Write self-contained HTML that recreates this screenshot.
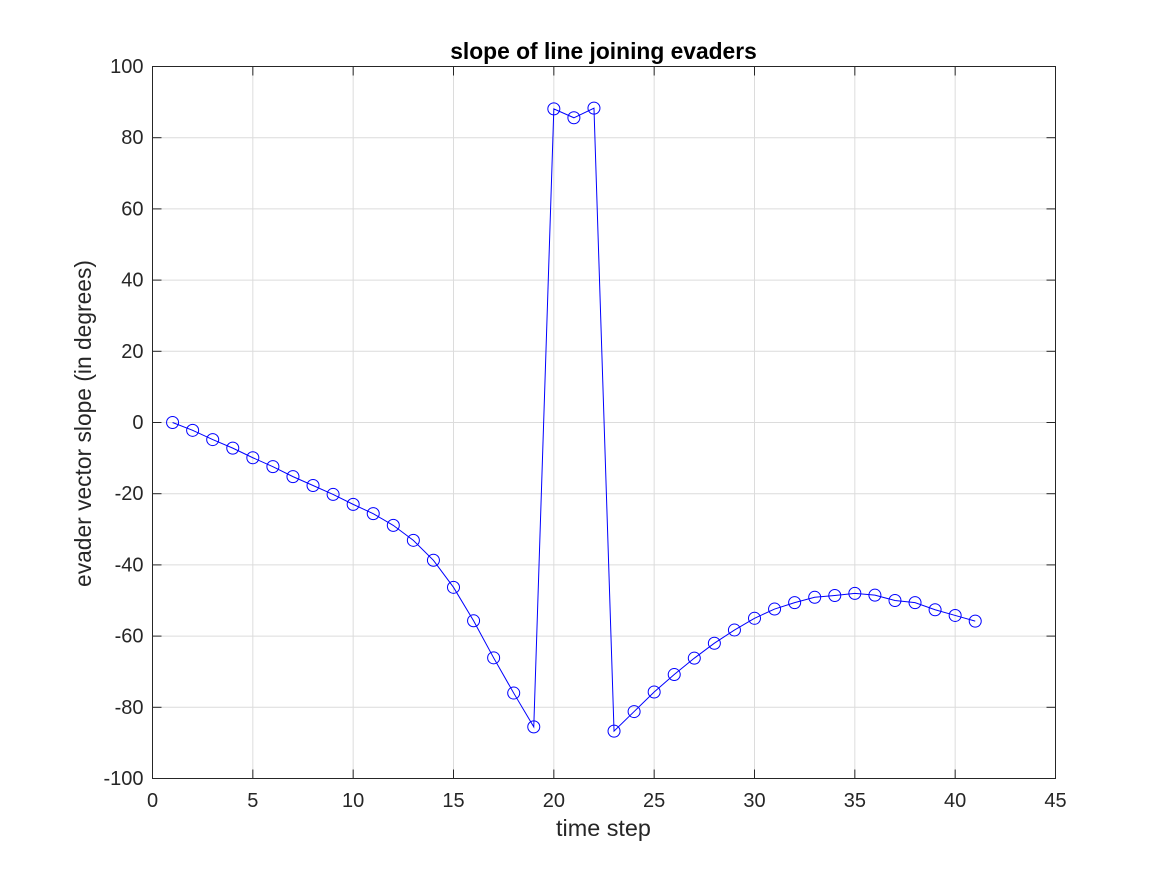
<!DOCTYPE html>
<html>
<head>
<meta charset="utf-8">
<title>slope of line joining evaders</title>
<style>
html,body{margin:0;padding:0;background:#fff;width:1167px;height:875px;overflow:hidden}
svg{display:block;font-family:"Liberation Sans",sans-serif}
</style>
</head>
<body>
<svg id="chart" width="1167" height="875" viewBox="0 0 1167 875" xmlns="http://www.w3.org/2000/svg">
<rect x="0" y="0" width="1167" height="875" fill="#ffffff"/>
<g id="grid"></g>
<g id="series"></g>
<g id="axes"></g>
<text x="603.5" y="59" text-anchor="middle" font-size="22.8" font-weight="bold" fill="#000">slope of line joining evaders</text>
<text x="603.5" y="836" text-anchor="middle" font-size="23.4" fill="#262626">time step</text>
<text transform="translate(91 423.5) rotate(-90)" text-anchor="middle" font-size="22.8" fill="#262626">evader vector slope (in degrees)</text>
</svg>
<script>
const xTicks = [0, 5, 10, 15, 20, 25, 30, 35, 40, 45];
const yTicks = [-100, -80, -60, -40, -20, 0, 20, 40, 60, 80, 100];
const timeSteps = [1,2,3,4,5,6,7,8,9,10,11,12,13,14,15,16,17,18,19,20,21,22,23,24,25,26,27,28,29,30,31,32,33,34,35,36,37,38,39,40,41];
const slopeValues = [0,-2.2,-4.8,-7.2,-9.9,-12.4,-15.2,-17.7,-20.2,-23,-25.6,-28.9,-33.1,-38.7,-46.3,-55.7,-66.1,-76,-85.5,88.1,85.6,88.3,-86.7,-81.2,-75.7,-70.8,-66.2,-62,-58.3,-55,-52.4,-50.6,-49.1,-48.6,-48,-48.5,-50,-50.6,-52.6,-54.2,-55.8];

const NS = 'http://www.w3.org/2000/svg';
const plotLeft = 152.5, plotRight = 1055.5, plotTop = 66.5, plotBottom = 778.5;
const xMin = 0, xMax = 45, yMin = -100, yMax = 100;
const xScale = v => plotLeft + (v - xMin) / (xMax - xMin) * (plotRight - plotLeft);
const yScale = v => plotBottom - (v - yMin) / (yMax - yMin) * (plotBottom - plotTop);
const gridGroup = document.getElementById('grid');
const seriesGroup = document.getElementById('series');
const axesGroup = document.getElementById('axes');

function makeEl(tag, attrs, parent) {
  const el = document.createElementNS(NS, tag);
  for (const k in attrs) el.setAttribute(k, attrs[k]);
  parent.appendChild(el);
  return el;
}

xTicks.forEach(t => {
  const x = xScale(t);
  if (t !== xMin && t !== xMax) {
    const g = makeEl('line', {x1: x, x2: x, y1: plotTop, y2: plotBottom, stroke: '#dcdcdc', 'stroke-width': 1}, gridGroup);
    
    
  }
  [[plotBottom, plotBottom - 9], [plotTop, plotTop + 9]].forEach(p => {
    const tick = makeEl('line', {x1: x, x2: x, y1: p[0], y2: p[1], stroke: '#262626', 'stroke-width': 1}, axesGroup);
    
    
  });
  const label = makeEl('text', {x: x, y: 807, 'text-anchor': 'middle', 'font-size': 20, fill: '#262626'}, axesGroup);
  
  
  label.textContent = t;
});

yTicks.forEach(t => {
  const y = yScale(t);
  if (t !== yMin && t !== yMax) {
    const g = makeEl('line', {x1: plotLeft, x2: plotRight, y1: y, y2: y, stroke: '#dcdcdc', 'stroke-width': 1}, gridGroup);
    
    
  }
  [[plotLeft, plotLeft + 9], [plotRight, plotRight - 9]].forEach(p => {
    const tick = makeEl('line', {x1: p[0], x2: p[1], y1: y, y2: y, stroke: '#262626', 'stroke-width': 1}, axesGroup);
    
    
  });
  const label = makeEl('text', {x: 143.5, y: y + 6.5, 'text-anchor': 'end', 'font-size': 20, fill: '#262626'}, axesGroup);
  
  
  label.textContent = t;
});

const frame = makeEl('rect', {x: plotLeft, y: plotTop, width: plotRight - plotLeft, height: plotBottom - plotTop, fill: 'none', stroke: '#262626', 'stroke-width': 1}, axesGroup);



const linePoints = timeSteps.map((t, i) => xScale(t) + ',' + yScale(slopeValues[i])).join(' ');
const polyline = makeEl('polyline', {points: linePoints, fill: 'none', stroke: '#0000ff', 'stroke-width': 1}, seriesGroup);



timeSteps.forEach((t, i) => {
  const marker = makeEl('circle', {cx: xScale(t), cy: yScale(slopeValues[i]), r: 6, fill: 'none', stroke: '#0000ff', 'stroke-width': 1}, seriesGroup);
  
  
});
</script>
</body>
</html>
